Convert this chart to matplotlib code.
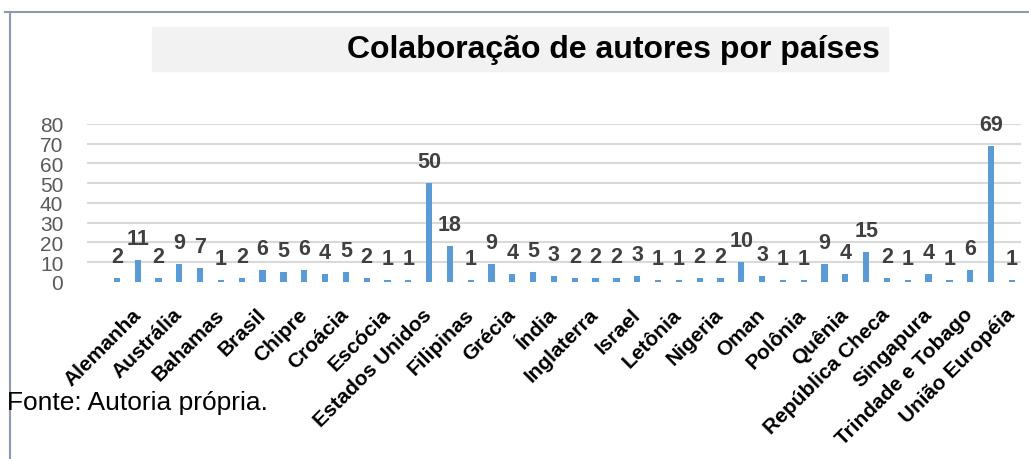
import matplotlib
matplotlib.use("Agg")
import matplotlib.pyplot as plt
from matplotlib.lines import Line2D
from matplotlib.patches import Rectangle

plt.rcParams["font.family"] = ["Liberation Sans", "DejaVu Sans"]

# only every other country name is shown in the original chart
countries = [
    "", "Alemanha", "", "Austrália", "", "Bahamas", "", "Brasil",
    "", "Chipre", "", "Croácia", "", "Escócia", "", "Estados Unidos",
    "", "Filipinas", "", "Grécia", "", "Índia", "", "Inglaterra",
    "", "Israel", "", "Letônia", "", "Nigeria", "", "Oman",
    "", "Polônia", "", "Quênia", "", "República Checa", "", "Singapura",
    "", "Trindade e Tobago", "", "União Européia",
]
authors = [
    2, 11, 2, 9, 7, 1, 2, 6, 5, 6, 4, 5, 2, 1, 1, 50,
    18, 1, 9, 4, 5, 3, 2, 2, 2, 3, 1, 1, 2, 2, 10, 3,
    1, 1, 9, 4, 15, 2, 1, 4, 1, 6, 69, 1,
]
y_ticks = [0, 10, 20, 30, 40, 50, 60, 70, 80]

title = "Colaboração de autores por países"
source = "Fonte: Autoria própria."

fig = plt.figure(figsize=(10.29, 4.60), dpi=100)
ax = fig.add_axes([0.0845, 0.3848, 0.9075, 0.3435])

x = range(len(authors))
ax.bar(x, authors, width=0.3, color="#5b9bd5", zorder=3)

for i, v in zip(x, authors):
    ax.annotate(str(v), (i, v), xytext=(0, 11.5), textcoords="offset points",
                ha="center", va="baseline", fontsize=15.5, fontweight="bold",
                color="#404040")

ax.set_xlim(-1.44, 43.43)
ax.set_ylim(0, 80)
ax.set_yticks(y_ticks)
ax.set_yticklabels([str(t) for t in y_ticks], fontsize=15, color="#595959")
ax.set_xticks(list(x))
ax.set_xticklabels(countries, rotation=45, ha="right", va="center",
                   rotation_mode="anchor", fontsize=15, fontweight="bold",
                   color="black")
ax.tick_params(axis="both", length=0)
ax.tick_params(axis="x", pad=21)
ax.tick_params(axis="y", pad=17)
for s in ax.spines.values():
    s.set_visible(False)
ax.yaxis.grid(True, color="#d9d9d9", linewidth=1.5, zorder=0)
ax.get_ygridlines()[0].set_visible(False)

# title band
fig.patches.append(Rectangle((0.1477, 0.8435), 0.7153, 0.0955,
                             transform=fig.transFigure, color="#f2f2f2",
                             zorder=0))
fig.text(0.596, 0.891, title, ha="center", va="center", fontsize=23,
         fontweight="bold", color="black")

fig.text(0.007, 0.1087, source, ha="left", va="baseline", fontsize=19,
         color="black")

# chart border (cut off at right and bottom)
border = "#8c9bb0"
fig.add_artist(Line2D([0.005, 1.0], [0.972, 0.972], transform=fig.transFigure,
                      color=border, linewidth=1.5))
fig.add_artist(Line2D([0.0097, 0.0097], [0.0, 0.972], transform=fig.transFigure,
                      color=border, linewidth=1.5))

fig.savefig("out.png", dpi=100)
